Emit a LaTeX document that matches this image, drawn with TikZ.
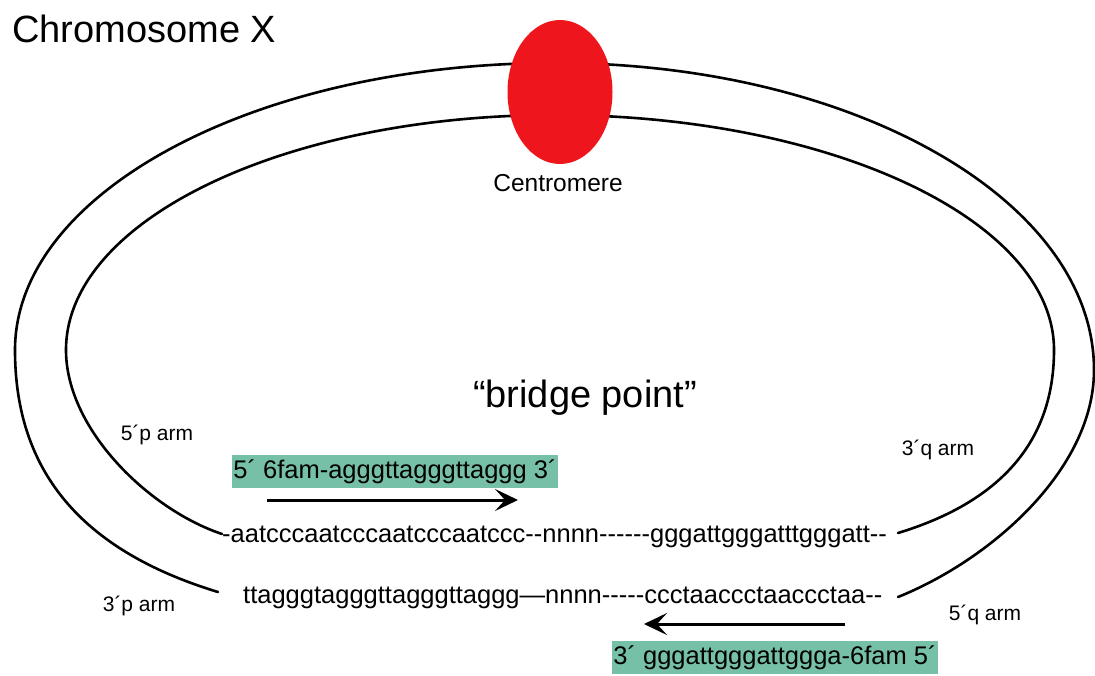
\documentclass[tikz,border=0pt]{standalone}
\usepackage{fontspec}
\setmainfont{Liberation Sans}[Ligatures=TeXOff]
\usetikzlibrary{arrows.meta,shapes.geometric}
\definecolor{primer}{RGB}{118,192,168}
\definecolor{centro}{RGB}{238,22,28}
\tikzset{
  chromline/.style={line width=2.6pt, line cap=round},
  seqtext/.style={inner sep=0pt, font=\fontsize{25.5}{28}\selectfont},
  armlabel/.style={inner sep=0pt, font=\fontsize{21}{24}\selectfont},
  primerbox/.style={fill=primer, inner sep=0pt, minimum height=33pt, minimum width=326pt, align=center, font=\fontsize{25.5}{28}\selectfont},
  primerarrow/.style={line width=3pt, -{Stealth[length=23pt,width=22pt,inset=10pt]}},
}
\begin{document}
\begin{tikzpicture}[x=1pt,y=-1pt]
\useasboundingbox (0,0) rectangle (1095,675);
% outer chromatid
\coordinate (oL) at (218,592);
\coordinate (oR) at (898,597);
\draw[chromline] (oL) .. controls (80,550) and (15,470) .. (15,350)
  .. controls (15,192) and (257,63) .. (555,63)
  .. controls (853,63) and (1094,200) .. (1094,370)
  .. controls (1094,470) and (990,560) .. (oR);
% inner chromatid
\coordinate (iL) at (222,534);
\coordinate (iR) at (898,533);
\draw[chromline] (iL) .. controls (150,510) and (66,430) .. (66,350)
  .. controls (66,220) and (285,115) .. (555,115)
  .. controls (830,115) and (1054,220) .. (1054,350)
  .. controls (1054,450) and (990,505) .. (iR);
% centromere
\node[ellipse, fill=centro, minimum width=105pt, minimum height=144pt, inner sep=0pt] (cen) at (560,92) {};
\node[inner sep=0pt, font=\fontsize{24.5}{27}\selectfont] (cenlab) at (558,183) {Centromere};
% title
\node[inner sep=0pt, anchor=base west, font=\fontsize{38}{42}\selectfont] (title) at (12,42) {Chromosome X};
% bridge point
\node[inner sep=0pt, anchor=base, font=\fontsize{38}{42}\selectfont] (bridge) at (585,407) {“bridge point”};
% arm labels
\node[armlabel, anchor=base] (p5) at (157,440) {5´p arm};
\node[armlabel, anchor=base] (p3) at (139,611) {3´p arm};
\node[armlabel, anchor=base] (q3) at (938,455) {3´q arm};
\node[armlabel, anchor=base] (q5) at (985,620) {5´q arm};
% sequences
\node[seqtext, anchor=base west] (seq1) at (222,542) {-aatcccaatcccaatcccaatccc--nnnn------gggattgggatttgggatt--};
\node[seqtext, anchor=base west] (seq2) at (243,603) {ttagggtagggttagggttaggg—nnnn-----ccctaaccctaaccctaa--};
% primers
\node[primerbox] (pr1) at (395,471.5) {5´ 6fam-agggttagggttaggg 3´};
\node[primerbox] (pr2) at (775,657.5) {3´ gggattgggattggga-6fam 5´};
% primer direction arrows
\coordinate (a1s) at (267,500);
\coordinate (a1e) at (518,500);
\coordinate (a2s) at (845,624);
\coordinate (a2e) at (644,624);
\draw[primerarrow] (a1s) -- (a1e);
\draw[primerarrow] (a2s) -- (a2e);
\end{tikzpicture}
\end{document}
